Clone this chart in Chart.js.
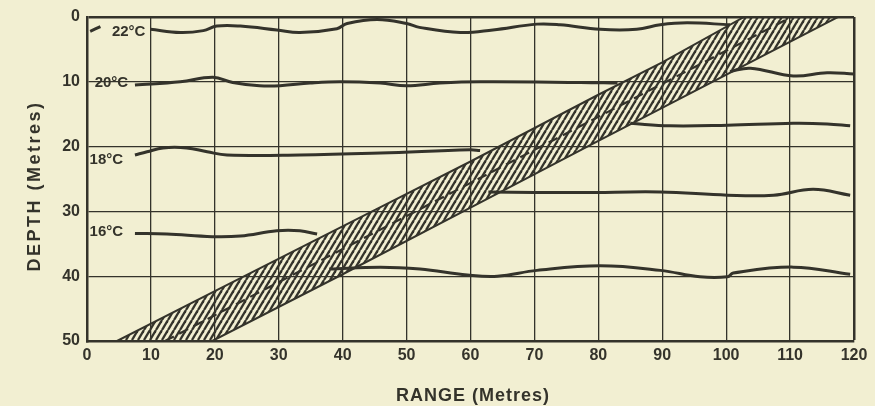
<!DOCTYPE html>
<html lang="en">
<head>
<meta charset="UTF-8">
<title>Depth vs Range</title>
<script src="https://cdn.jsdelivr.net/npm/chart.js"></script>
<style>
  html, body { margin: 0; padding: 0; background: #f2efd2; }
</style>
</head>
<body>
<canvas id="chart" width="875" height="406"></canvas>
<script>
// range (m), depth (m) pairs; null = gap in the line
const iso22 = [[0.5,2.2],[2.1,1.5],null,[9.9,1.9],[14.6,2.4],[18.2,2.1],[20.3,1.4],[24,1.4],[29.7,2.0],[33.3,2.4],[39.1,1.8],[40.7,1.0],[45.4,0.4],[50,1.0],[52,1.6],[58.4,2.4],[63.5,2.0],[70.4,1.1],[74,1.2],[80.3,1.9],[86,1.9],[89.7,1.2],[93.9,0.9],[100.6,1.2]];
const iso20Left = [[7.5,10.5],[14.6,10.0],[19.7,9.3],[22.8,10.1],[27,10.6],[30.2,10.6],[34.9,10.2],[39.6,10.0],[45.9,10.2],[50,10.6],[55.2,10.2],[61.5,10.0],[77.2,10.1],[83,10.2]];
const iso20Right = [[100.6,8.4],[103.8,7.9],[110.5,9.1],[115.8,8.6],[120,8.8]];
const iso18Left = [[7.5,21.3],[9.4,20.8],[11.9,20.2],[15.6,20.2],[18.8,20.8],[21.9,21.3],[33.3,21.3],[45.9,21.0],[59.9,20.5],[61.5,20.6]];
const iso18Right = [[85,16.4],[91.2,16.8],[100.2,16.7],[110.5,16.4],[115.8,16.5],[119.4,16.8]];
const iso16Left = [[7.5,33.4],[12.5,33.5],[19.6,33.9],[24,33.8],[29.7,33.0],[33.3,33.0],[36,33.5]];
const iso16Right = [[62.8,27.0],[77.2,27.1],[89.7,27.0],[100.2,27.5],[107.4,27.5],[113.6,26.6],[119.4,27.5]];
const iso14Right = [[37.9,38.9],[45.9,38.6],[52.1,38.9],[59.5,39.8],[64.2,40.0],[70.4,39.1],[80.3,38.4],[89.7,39.1],[95.9,40.1],[100.2,40.1],[101.1,39.5],[110.5,38.6],[119.4,39.7]];

// hatched band edges and its dashed centre
const bandUpper = [[4.7,50],[20,42.3],[46,29.3],[60,22.3],[80,12.0],[90,7.0],[102.8,0]];
const bandLower = [[19.6,50],[40,39.7],[60,29.4],[80,19.1],[100.8,8.5],[117.5,0]];
const bandCentre = [[12.2,50],[110.2,0]];

const isoLabels = ['22°C', '20°C', '18°C', '16°C'];
const xTicks = [0,10,20,30,40,50,60,70,80,90,100,110,120];
const yTicks = [0,10,20,30,40,50];

const ink = '#34332b';
const paper = '#f2efd2';
const fontFam = '"Liberation Sans", Arial, sans-serif';

function pts(arr) {
    return arr.map(p => p ? { x: p[0], y: p[1] } : { x: NaN, y: null });
}

// stripe pattern for the band
function hatch() {
    const c = document.createElement('canvas');
    const w = 6, h = 10;
    c.width = w; c.height = h;
    const g = c.getContext('2d');
    g.strokeStyle = ink;
    g.lineWidth = 2.3;
    for (let k = -w; k <= w; k += w) {
        g.beginPath();
        g.moveTo(k, h);
        g.lineTo(k + w, 0);
        g.stroke();
    }
    return g.createPattern(c, 'repeat');
}

function isoSet(arr) {
    return {
        data: pts(arr),
        borderColor: ink,
        borderWidth: 3,
        tension: 0.4,
        pointRadius: 0,
        fill: false,
        spanGaps: false
    };
}

const paperPlugin = {
    id: 'paper',
    beforeDraw(chart) {
        const c = chart.ctx;
        c.save();
        c.fillStyle = paper;
        c.fillRect(0, 0, chart.width, chart.height);
        c.restore();
    }
};

const textPlugin = {
    id: 'texts',
    afterDraw(chart) {
        const c = chart.ctx;
        const xs = chart.scales.x, ys = chart.scales.y;
        const anchors = [[3.9, 2.3], [1.2, 10.2], [0.4, 22.1], [0.4, 33.2]];
        c.save();
        c.fillStyle = ink;
        c.textBaseline = 'middle';
        c.textAlign = 'left';
        c.font = 'bold 15px ' + fontFam;
        isoLabels.forEach((t, i) => {
            c.fillText(t, xs.getPixelForValue(anchors[i][0]), ys.getPixelForValue(anchors[i][1]));
        });
        c.font = 'bold 18px ' + fontFam;
        c.textAlign = 'center';
        c.letterSpacing = '1px';
        c.fillText('RANGE (Metres)', 473, 396);
        c.letterSpacing = '2.5px';
        c.translate(35, 186);
        c.rotate(-Math.PI / 2);
        c.fillText('DEPTH (Metres)', 0, 0);
        c.restore();
    }
};

new Chart(document.getElementById('chart').getContext('2d'), {
    type: 'line',
    data: {
        datasets: [
            {
                data: pts(bandUpper.concat(bandLower.slice().reverse())),
                borderColor: ink,
                borderWidth: 2,
                backgroundColor: hatch(),
                fill: 'shape',
                tension: 0,
                pointRadius: 0
            },
            {
                data: pts(bandCentre),
                borderColor: ink,
                borderWidth: 2.2,
                borderDash: [10, 6],
                pointRadius: 0,
                fill: false
            },
            isoSet(iso22),
            isoSet(iso20Left),
            isoSet(iso20Right),
            isoSet(iso18Left),
            isoSet(iso18Right),
            isoSet(iso16Left),
            isoSet(iso16Right),
            isoSet(iso14Right)
        ]
    },
    options: {
        responsive: false,
        animation: false,
        events: [],
        layout: { padding: { top: 17, right: 21, left: 0, bottom: 0 } },
        plugins: {
            legend: { display: false },
            tooltip: { enabled: false }
        },
        scales: {
            x: {
                type: 'linear',
                min: 0,
                max: 120,
                afterFit(s) { s.height = 65; },
                afterBuildTicks(s) { s.ticks = xTicks.map(v => ({ value: v })); },
                ticks: {
                    color: ink,
                    font: { family: fontFam, size: 16, weight: 'bold' },
                    padding: 5,
                    autoSkip: false,
                    maxRotation: 0
                },
                grid: {
                    color: ink,
                    drawTicks: false,
                    lineWidth: c => c.tick && c.tick.value === 120 ? 2.5 : 1.3
                },
                border: { color: ink, width: 2.5 }
            },
            y: {
                type: 'linear',
                min: 0,
                max: 50,
                reverse: true,
                afterFit(s) { s.width = 87; },
                afterBuildTicks(s) { s.ticks = yTicks.map(v => ({ value: v })); },
                ticks: {
                    color: ink,
                    font: { family: fontFam, size: 16, weight: 'bold' },
                    padding: 7
                },
                grid: {
                    color: ink,
                    drawTicks: false,
                    lineWidth: c => c.tick && c.tick.value === 0 ? 2.5 : 1.3
                },
                border: { color: ink, width: 2.5 }
            }
        }
    },
    plugins: [paperPlugin, textPlugin]
});
</script>
</body>
</html>
